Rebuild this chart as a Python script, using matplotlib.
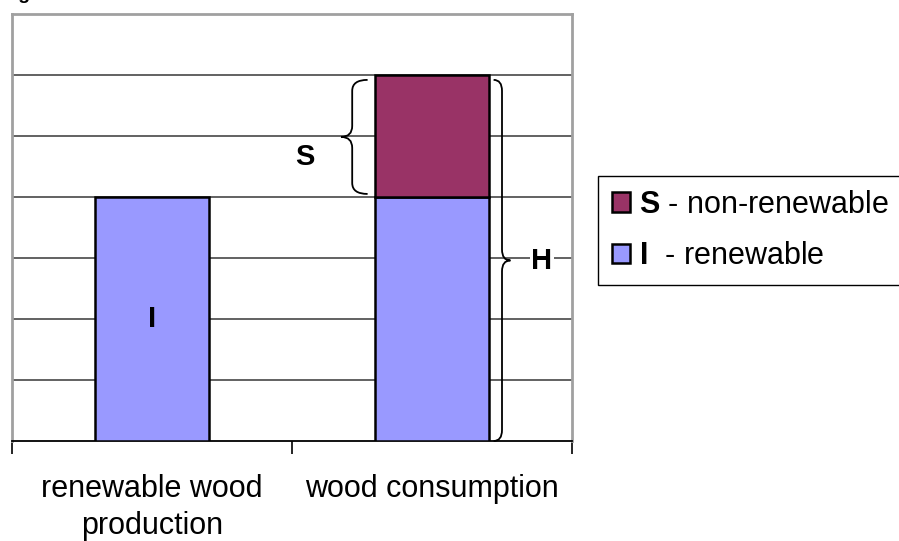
import numpy as np
import matplotlib
matplotlib.use("Agg")
import matplotlib.pyplot as plt
from matplotlib.path import Path
from matplotlib.patches import PathPatch

plt.rcParams.update({
    "font.family": ["Liberation Sans", "DejaVu Sans"],
    "mathtext.fontset": "custom",
    "mathtext.rm": "Liberation Sans",
    "mathtext.bf": "Liberation Sans:bold",
})

# ---- data -------------------------------------------------------------------
categories = ["renewable wood\nproduction", "wood consumption"]
renewable = [4, 4]        # I
non_renewable = [0, 2]    # S
y_max = 7
legend_labels = [r"$\mathbf{S}$ - non-renewable", r"$\mathbf{I}$  - renewable"]

BLUE, MAROON = "#9999FF", "#993366"
GRID, BORDER = "#555555", "#a0a0a0"


def brace(ax, x, y0, y1, direction, tip=0.04, curl=0.05, r=0.18, lw=1.3):
    """Vertical curly brace at x spanning y0..y1, tip pointing in `direction`."""
    ym = (y0 + y1) / 2
    s = direction
    verts = [(x - s * curl, y1), (x, y1), (x, y1 - r),
             (x, ym + r), (x, ym), (x + s * tip, ym),
             (x, ym), (x, ym - r),
             (x, y0 + r), (x, y0), (x - s * curl, y0)]
    codes = [Path.MOVETO, Path.CURVE3, Path.CURVE3,
             Path.LINETO, Path.CURVE3, Path.CURVE3,
             Path.CURVE3, Path.CURVE3,
             Path.LINETO, Path.CURVE3, Path.CURVE3]
    ax.add_patch(PathPatch(Path(verts, codes), fill=False, color="black",
                           lw=lw, zorder=4, clip_on=False))


fig = plt.figure(figsize=(8.99, 5.41), dpi=100)
ax = fig.add_axes([12 / 899, 100 / 541, 560 / 899, 427 / 541])

x = np.arange(len(categories))
w = 0.41
bars_i = ax.bar(x, renewable, w, color=BLUE, edgecolor="black", lw=1.8, zorder=3)
bars_s = ax.bar(x, non_renewable, w, bottom=renewable, color=MAROON,
                edgecolor="black", lw=1.8, zorder=3)
bars_s[0].set_visible(False)

ax.set_xlim(-0.5, len(categories) - 0.5)
ax.set_ylim(0, y_max)

# gridlines
for g in range(1, y_max):
    ax.axhline(g, color=GRID, lw=1.3, zorder=1)

# spines / ticks
for side in ("top", "left", "right"):
    ax.spines[side].set_color(BORDER)
    ax.spines[side].set_linewidth(2)
ax.spines["bottom"].set_color("black")
ax.spines["bottom"].set_linewidth(1.3)
ax.set_yticks([])
ax.set_xticks(np.arange(len(categories) + 1) - 0.5)
ax.set_xticklabels([])
ax.tick_params(axis="x", which="major", length=9, width=1.2, color="black")
ax.set_xticks(x, minor=True)
ax.set_xticklabels(categories, minor=True, fontsize=22, linespacing=1.3)
ax.tick_params(axis="x", which="minor", length=0, pad=24)

# annotations
top = renewable[1] + non_renewable[1]
brace(ax, x[1] - 0.285, renewable[1] + 0.05, top - 0.08, -1, tip=0.04, curl=0.055)
ax.text(x[1] - 0.455, renewable[1] + non_renewable[1] * 0.33, "S",
        fontsize=21, fontweight="bold", ha="center", va="center", zorder=5)
brace(ax, x[1] + 0.25, 0, top - 0.08, 1, tip=0.03, curl=0.03)
ax.text(x[1] + 0.393, top / 2 - 0.05, "H", fontsize=21, fontweight="bold",
        ha="center", va="center", zorder=5,
        bbox=dict(facecolor="white", edgecolor="none", pad=1))
ax.text(x[0], renewable[0] / 2, "I", fontsize=21, fontweight="bold",
        ha="center", va="center", zorder=5)

leg = ax.legend([bars_s[1], bars_i[0]], legend_labels,
                loc="upper left", bbox_to_anchor=(598 / 899, 1 - 176 / 541),
                bbox_transform=fig.transFigure, fontsize=22, frameon=True,
                fancybox=False, edgecolor="black", framealpha=1,
                handlelength=0.6, handleheight=0.6, handletextpad=0.3,
                borderpad=0.45, labelspacing=0.7, borderaxespad=0)
leg.get_frame().set_linewidth(1.0)

fig.text(2 / 899, 1 + 1 / 541, "Fig", fontsize=14, fontweight="bold",
         va="baseline", ha="left")

fig.savefig("out.png", dpi=100)
